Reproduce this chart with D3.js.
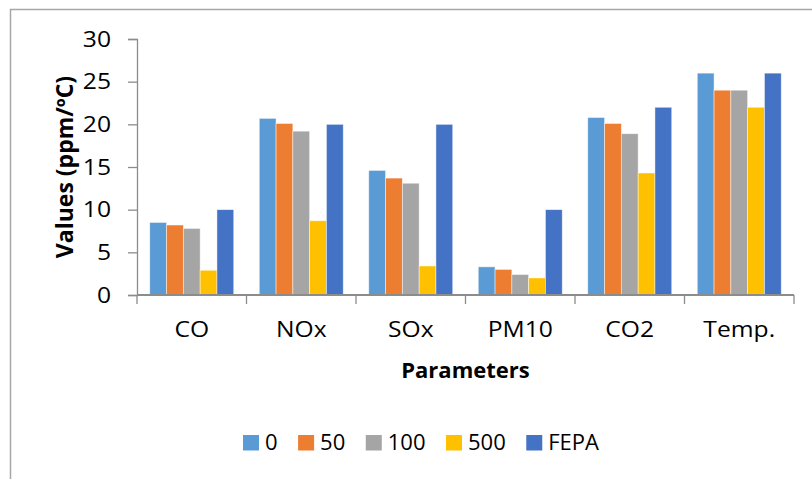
<!DOCTYPE html>
<html>
<head>
<meta charset="utf-8">
<script src="https://cdn.jsdelivr.net/npm/d3@7"></script>
<style>
  html, body { margin: 0; padding: 0; background: #fff; }
  svg { display: block; }
  text { font-family: "Open Sans", "Noto Sans", sans-serif; fill: #000; }
</style>
</head>
<body>
<svg id="chart" width="812" height="479"></svg>
<script>
// Measured parameters per dose level, plus the FEPA limit
const categories = ["CO", "NOx", "SOx", "PM10", "CO2", "Temp."];
const seriesNames = ["0", "50", "100", "500", "FEPA"];
const series0    = [8.5, 20.7, 14.6, 3.3, 20.8, 26];
const series50   = [8.2, 20.1, 13.7, 3.0, 20.1, 24];
const series100  = [7.8, 19.2, 13.1, 2.4, 18.9, 24];
const series500  = [2.9, 8.7, 3.4, 2.0, 14.3, 22];
const seriesFEPA = [10, 20, 20, 10, 22, 26];
const yTicks = [0, 5, 10, 15, 20, 25, 30];
const colors = ["#5B9BD5", "#ED7D31", "#A5A5A5", "#FFC000", "#4472C4"];

const allSeries = [series0, series50, series100, series500, seriesFEPA];

// widen glyphs a little so the axis labels read like a wide sans face
const STRETCH = 1.12;
function widen(sel) {
  sel.each(function () {
    const w = this.getComputedTextLength();
    d3.select(this)
      .attr("textLength", w * STRETCH)
      .attr("lengthAdjust", "spacingAndGlyphs");
  });
}

const svg = d3.select("#chart");

// chart frame (left and top edges)
svg.append("path")
  .attr("d", "M10.5,479 L10.5,9.5 L812,9.5")
  .attr("fill", "none")
  .attr("stroke", "#A6A6A6")
  .attr("stroke-width", 1.5);

const plot = { left: 137, right: 794, top: 39, bottom: 295 };

const x0 = d3.scaleBand()
  .domain(categories)
  .range([plot.left, plot.right])
  .padding(0);

const x1 = d3.scaleBand()
  .domain(seriesNames)
  .range([0, x0.bandwidth()])
  .paddingInner(0)
  .paddingOuter(0.76);

const y = d3.scaleLinear()
  .domain([0, 30])
  .range([plot.bottom, plot.top]);

// bars
const rows = categories.map((c, i) => ({
  cat: c,
  vals: seriesNames.map((s, j) => ({ s, v: allSeries[j][i], color: colors[j] }))
}));

const groups = svg.append("g")
  .selectAll("g")
  .data(rows)
  .join("g")
  .attr("transform", d => `translate(${x0(d.cat)},0)`);

groups.selectAll("rect")
  .data(d => d.vals)
  .join("rect")
  .attr("x", d => x1(d.s))
  .attr("y", d => y(d.v))
  .attr("width", x1.bandwidth())
  .attr("height", d => y(0) - y(d.v))
  .attr("fill", d => d.color)
  .attr("stroke", "#ffffff")
  .attr("stroke-opacity", 0.6)
  .attr("stroke-width", 0.75);

// y axis
const yAxis = d3.axisLeft(y)
  .tickValues(yTicks)
  .tickSize(9)
  .tickPadding(17)
  .tickFormat(d3.format("d"));

const gy = svg.append("g")
  .attr("transform", `translate(${plot.left},0)`)
  .call(yAxis);
gy.select(".domain").attr("stroke", "#8C8C8C").attr("stroke-width", 1.3);
gy.selectAll(".tick line").attr("stroke", "#8C8C8C").attr("stroke-width", 1.3);
gy.selectAll(".tick text")
  .style("font-family", '"Open Sans", sans-serif')
  .style("font-size", "22px")
  .attr("fill", "#000")
  .call(widen);

// x axis: tick marks on category boundaries
const boundaries = categories.map(c => x0(c)).concat([x0.range()[1]]);
const gx = svg.append("g");
gx.append("line")
  .attr("x1", plot.left).attr("x2", plot.right)
  .attr("y1", y(0)).attr("y2", y(0))
  .attr("stroke", "#8C8C8C").attr("stroke-width", 2);
gx.selectAll("line.tk")
  .data(boundaries)
  .join("line")
  .attr("class", "tk")
  .attr("x1", d => d).attr("x2", d => d)
  .attr("y1", y(0)).attr("y2", y(0) + 9)
  .attr("stroke", "#8C8C8C").attr("stroke-width", 1.3);
gx.selectAll("text")
  .data(categories)
  .join("text")
  .attr("x", d => x0(d) + x0.bandwidth() / 2)
  .attr("y", 337)
  .attr("text-anchor", "middle")
  .style("font-size", "22px")
  .text(d => d)
  .call(widen);

// axis titles
svg.append("text")
  .attr("x", (plot.left + plot.right) / 2)
  .attr("y", 378)
  .attr("text-anchor", "middle")
  .style("font-size", "22px")
  .style("font-weight", "bold")
  .text("Parameters");

svg.append("text")
  .attr("transform", `translate(73,${(plot.top + plot.bottom) / 2}) rotate(-90)`)
  .attr("text-anchor", "middle")
  .style("font-size", "23px")
  .style("font-weight", "bold")
  .text("Values (ppm/ºC)");

// legend
const legend = svg.append("g");
let lx = 243;
seriesNames.forEach((name, j) => {
  const item = legend.append("g").attr("transform", `translate(${lx},0)`);
  item.append("rect")
    .attr("x", 0).attr("y", 435)
    .attr("width", 16).attr("height", 15.5)
    .attr("fill", colors[j]);
  const t = item.append("text")
    .attr("x", 22).attr("y", 450)
    .style("font-size", "22px")
    .text(name);
  lx += 22 + t.node().getComputedTextLength() + 20.5;
});
</script>
</body>
</html>
